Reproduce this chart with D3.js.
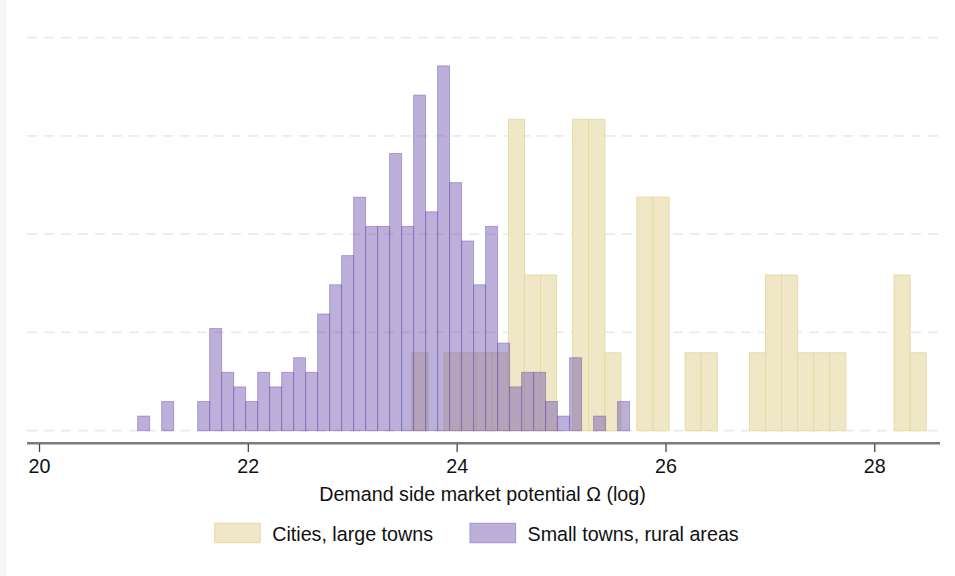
<!DOCTYPE html>
<html lang="en">
<head>
<meta charset="UTF-8">
<title>Demand side market potential</title>
<style>
  body { margin: 0; background: #fff; }
  svg { display: block; font-family: "Liberation Sans", Arial, Helvetica, sans-serif; }
</style>
</head>
<body>
<script src="https://d3js.org/d3.v7.min.js"></script>
<script>
// histogram counts per bin
const ruralStart = 20.945
const ruralWidth = 0.1149
const ruralCounts = [1, 0, 2, 0, 0, 2, 7, 4, 3, 2, 4, 3, 4, 5, 4, 8, 10, 12, 16, 14, 14,
                     19, 14, 23, 15, 25, 17, 13, 10, 14, 6, 3, 4, 4, 2, 1, 5, 0, 1, 0, 2]

const cityStart = 23.572
const cityWidth = 0.1539
const cityCounts = [1, 0, 1, 1, 1, 1, 4, 2, 2, 0, 4, 4, 1, 0, 3, 3, 0, 1, 1, 0, 0,
                    1, 2, 2, 1, 1, 1, 0, 0, 0, 2, 1]

const xTicks = [20, 22, 24, 26, 28]
const gridValues = [0, 0.2, 0.4, 0.6, 0.8]
const seriesNames = ['Cities, large towns', 'Small towns, rural areas']
const xTitle = 'Demand side market potential \u03A9 (log)'

const m = { width: 955, height: 576 }
const fontSize = 19.7

const svg = d3.select('body').append('svg')
    .attr('width', m.width)
    .attr('height', m.height)

// faint strip on the left edge
svg.append('rect')
    .attr('x', 0).attr('y', 0)
    .attr('width', 6).attr('height', m.height)
    .attr('fill', '#f7f7f7')

const x = d3.scaleLinear().domain([20, 28]).range([39, 874.3])
const y = d3.scaleLinear().domain([0, 0.8]).range([430.7, 37.7])

// turn counts into density bins
function toBins(counts, start, width) {
    const n = d3.sum(counts)
    return counts.map((c, i) => ({
        x0: start + i * width,
        x1: start + (i + 1) * width,
        density: c / (n * width)
    })).filter(d => d.density > 0)
}

const cityBins = toBins(cityCounts, cityStart, cityWidth)
const ruralBins = toBins(ruralCounts, ruralStart, ruralWidth)

// gridlines
svg.append('g')
    .selectAll('line')
    .data(gridValues)
    .enter()
    .append('line')
        .attr('x1', 27)
        .attr('x2', 940)
        .attr('y1', d => y(d))
        .attr('y2', d => y(d))
        .attr('stroke', '#ebebeb')
        .attr('stroke-width', 1.8)
        .attr('stroke-dasharray', '10,7')

// cities (drawn first, opaque)
svg.append('g')
    .selectAll('rect')
    .data(cityBins)
    .enter()
    .append('rect')
        .attr('x', d => x(d.x0))
        .attr('width', d => x(d.x1) - x(d.x0))
        .attr('y', d => y(d.density))
        .attr('height', d => y(0) - y(d.density))
        .attr('fill', '#f0e7c6')
        .attr('stroke', '#e6daa6')
        .attr('stroke-width', 1)

// small towns on top, see-through
svg.append('g')
    .selectAll('rect')
    .data(ruralBins)
    .enter()
    .append('rect')
        .attr('x', d => x(d.x0))
        .attr('width', d => x(d.x1) - x(d.x0))
        .attr('y', d => y(d.density))
        .attr('height', d => y(0) - y(d.density))
        .attr('fill', 'rgba(106,79,173,0.45)')
        .attr('stroke', 'rgba(106,79,173,0.45)')
        .attr('stroke-width', 1)

// x axis
svg.append('line')
    .attr('x1', 27).attr('x2', 940)
    .attr('y1', 443.3).attr('y2', 443.3)
    .attr('stroke', '#7a7a7a')
    .attr('stroke-width', 2.4)

const xAxis = svg.append('g')
    .attr('transform', 'translate(0,444)')
    .call(d3.axisBottom(x).tickValues(xTicks).tickSize(8).tickSizeOuter(0).tickFormat(d3.format('d')))

xAxis.select('.domain').remove()
xAxis.selectAll('.tick line').attr('stroke', '#444').attr('stroke-width', 1.3)
xAxis.selectAll('.tick text')
    .attr('y', 0)
    .attr('dy', null)
    .attr('transform', 'translate(0,28.5)')
    .attr('font-size', fontSize)
    .attr('font-family', '"Liberation Sans", Arial, Helvetica, sans-serif')
    .attr('fill', '#111')

svg.append('text')
    .attr('x', 482.5)
    .attr('y', 500.5)
    .attr('text-anchor', 'middle')
    .attr('font-size', fontSize)
    .attr('fill', '#111')
    .text(xTitle)

// legend
const legendColors = [
    { fill: '#f0e7c6', stroke: '#e6daa6' },
    { fill: '#bcb0da', stroke: '#a391cf' }
]
const legendX = [214.7, 470]

const legend = svg.append('g')
    .selectAll('g')
    .data(seriesNames)
    .enter()
    .append('g')
        .attr('transform', (d, i) => 'translate(' + legendX[i] + ',523.3)')

legend.append('rect')
    .attr('width', 45.6)
    .attr('height', 19.4)
    .attr('fill', (d, i) => legendColors[i].fill)
    .attr('stroke', (d, i) => legendColors[i].stroke)
    .attr('stroke-width', 1)

legend.append('text')
    .attr('x', 57.5)
    .attr('y', 18)
    .attr('font-size', fontSize)
    .attr('fill', '#111')
    .text(d => d)
</script>
</body>
</html>
